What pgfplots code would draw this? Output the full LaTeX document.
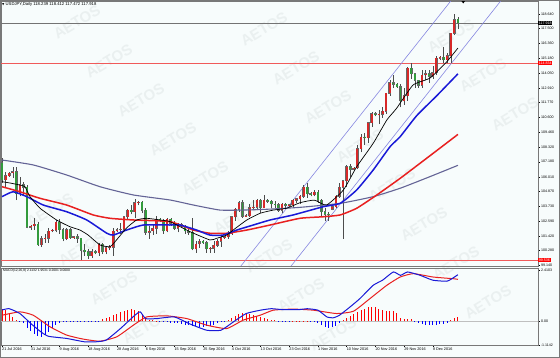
\documentclass[border=0pt]{standalone}
\usepackage{fontspec}
\setmainfont{Liberation Sans}
\newfontfamily\dejavu{DejaVu Sans}
\usepackage{pgfplots}
\pgfplotsset{compat=1.18}
\usepackage{pgfplotstable}

\definecolor{bg}{RGB}{247,252,252}
\definecolor{wm}{RGB}{234,240,240}
\definecolor{candleup}{RGB}{215,40,40}
\definecolor{candledn}{RGB}{50,155,60}
\definecolor{mablue}{RGB}{25,25,215}
\definecolor{mared}{RGB}{232,32,32}
\definecolor{maslate}{RGB}{100,100,150}
\definecolor{chan}{RGB}{135,135,225}
\definecolor{hline}{RGB}{240,90,90}
\definecolor{frame}{RGB}{120,120,120}

% bullish candles: x open high low close
\pgfplotstableread{
x o h l c
1 105.80 106.35 105.20 106.10
2 106.10 106.40 106.00 106.30
3 106.30 106.75 105.90 106.40
5 104.70 106.00 104.50 105.40
8 102.10 102.30 101.90 102.20
9 102.20 102.80 101.90 102.35
11 100.75 101.40 100.55 101.20
12 101.20 101.60 100.90 101.25
13 101.25 102.00 100.90 101.80
14 101.80 101.95 101.70 101.85
15 101.85 102.65 101.70 102.50
18 101.20 102.00 101.10 101.90
20 101.30 101.40 101.20 101.35
25 99.90 100.40 99.70 100.20
27 100.10 100.90 99.90 100.80
29 100.20 100.60 100.00 100.50
30 100.50 100.70 100.30 100.55
31 100.55 102.00 99.90 101.80
32 101.80 102.00 101.70 101.90
33 101.90 102.40 101.60 101.95
34 101.95 103.00 101.90 102.90
35 102.90 103.50 102.70 103.40
37 103.30 104.30 102.80 104.00
38 104.00 104.10 103.80 104.05
41 101.70 102.20 101.20 101.80
42 101.80 102.30 101.50 102.00
43 102.00 103.00 101.60 102.70
46 101.80 102.80 101.70 102.70
49 102.00 102.40 101.70 102.30
54 100.40 101.00 100.10 100.80
55 100.80 101.20 100.50 101.00
58 100.40 100.60 100.10 100.45
59 100.45 101.00 100.10 100.70
60 100.70 101.20 100.60 101.00
61 101.00 101.40 100.60 101.30
62 101.30 101.40 101.20 101.35
63 101.35 101.80 101.20 101.60
64 101.60 102.95 101.50 102.90
65 102.90 103.60 102.60 103.50
66 103.50 104.10 103.30 104.00
68 102.95 103.10 102.90 103.00
69 103.00 103.90 102.90 103.60
70 103.60 104.20 103.40 103.65
71 103.65 104.30 103.40 104.20
73 103.60 104.60 103.60 104.20
78 103.40 104.00 103.20 103.90
80 103.80 103.90 103.70 103.85
81 103.85 104.30 103.70 104.20
82 104.20 104.40 104.00 104.30
83 104.30 104.60 103.90 104.50
84 104.50 105.40 104.40 105.20
87 104.60 105.00 104.50 104.80
92 103.50 103.80 103.40 103.70
93 103.70 104.60 103.60 104.50
94 104.50 105.50 104.40 105.20
95 105.20 105.80 101.20 105.70
96 105.70 106.90 105.20 106.80
98 106.60 106.80 106.50 106.70
99 106.70 108.50 106.60 108.20
100 108.20 109.30 107.90 109.10
102 109.05 110.30 108.60 110.20
103 110.20 111.00 109.90 110.90
105 110.80 111.20 110.10 110.85
106 110.85 111.40 110.60 111.10
107 111.10 112.50 110.90 112.50
108 112.50 113.50 112.30 113.30
112 111.90 112.90 111.60 112.30
113 112.30 114.50 111.90 114.45
117 113.10 114.30 112.90 113.90
118 113.90 114.30 113.50 114.00
120 113.80 114.60 113.60 114.10
121 114.10 115.40 113.90 115.20
122 115.20 115.40 115.10 115.30
124 115.10 115.60 114.80 115.40
125 115.40 117.20 114.80 117.15
126 117.15 118.66 117.00 118.20
}\upc

% bearish candles
\pgfplotstableread{
x o h l c
0 107.10 107.45 105.55 105.80
4 106.40 106.80 104.20 104.70
6 105.40 105.60 104.60 105.20
7 105.20 105.40 102.00 102.10
10 102.35 102.50 100.65 100.75
16 102.50 102.70 101.60 101.90
17 101.90 102.00 101.00 101.20
19 101.90 102.00 101.20 101.30
21 101.35 101.60 100.90 101.25
22 101.25 101.30 99.55 100.30
23 100.30 100.80 99.90 100.20
24 100.20 100.40 99.65 99.90
26 100.20 100.30 100.00 100.10
28 100.80 100.90 100.00 100.20
36 103.40 103.80 103.10 103.30
39 104.05 104.10 103.20 103.40
40 103.40 103.60 101.50 101.70
44 102.70 102.80 102.50 102.60
45 102.60 102.70 101.60 101.80
47 102.70 102.80 102.20 102.40
48 102.40 102.60 101.90 102.00
50 102.30 102.40 102.10 102.20
51 102.20 102.30 101.60 101.80
52 101.80 102.00 101.50 101.70
53 101.70 102.80 100.30 100.40
56 101.00 101.10 100.80 100.90
57 100.90 101.00 100.10 100.40
67 104.00 104.20 102.80 102.95
72 104.20 104.30 103.20 103.60
74 104.20 104.25 104.00 104.10
75 104.10 104.20 103.60 103.90
76 103.90 104.10 103.60 103.85
77 103.85 104.00 103.30 103.40
79 103.90 104.00 103.50 103.80
85 105.20 105.50 104.40 104.70
86 104.70 104.80 104.50 104.60
88 104.80 105.00 104.00 104.20
89 104.20 104.30 102.90 103.30
90 103.30 103.60 102.55 103.10
91 103.10 103.30 102.60 103.05
97 106.80 107.00 106.00 106.60
101 109.10 109.40 108.50 109.05
104 110.90 111.00 110.70 110.80
109 113.30 113.90 112.90 113.20
110 113.20 113.30 112.90 113.00
111 113.00 113.20 111.40 111.90
114 114.45 114.83 113.60 114.00
115 114.00 114.10 112.90 113.50
116 113.50 113.50 112.90 113.10
119 114.00 114.30 113.30 113.80
123 115.30 116.10 114.80 115.10
127 118.239 118.412 117.472 117.918
}\dnc

\begin{document}
\begin{tikzpicture}[x=1pt,y=1pt]
\useasboundingbox (0,0) rectangle (560,358);
\fill[bg] (0,0) rectangle (560,358);
\foreach \wx/\wy in {264/329,296/290,328/251,360/212,392/173,424/134,456/95,488/56,451/322,483/283,515/244,205/180,237/141,269/102,301/63,333/24,173/219,141/258,109/297,77/336,82/109,114/70,146/31,50/148}{
  \node[rotate=31,text=wm,font=\bfseries\fontsize{15}{15}\selectfont] at (\wx,\wy) {AETOS};
}

% ---------------- main price panel ----------------
\begin{axis}[
  at={(1pt,92pt)}, anchor=south west, scale only axis,
  width=537pt, height=265pt,
  xmin=-0.28, xmax=149.3, ymin=99.09, ymax=119.649,
  axis line style={draw=frame, line width=0.6pt},
  xtick=\empty,
  ytick={118.64,117.5,116.36,115.18,114.05,112.91,111.77,110.6,109.46,108.32,107.18,106.01,104.87,103.73,102.59,101.42,100.28,99.14},
  yticklabels={118.640,117.500,116.360,115.180,114.050,112.910,111.770,110.600,109.460,108.320,107.180,106.010,104.870,103.730,102.590,101.420,100.280,99.140},
  ytick pos=right, yticklabel pos=right, tick align=outside,
  major tick length=2pt, ytick style={draw=black, line width=0.4pt},
  yticklabel style={font=\fontsize{3.6}{4}\selectfont, anchor=west, inner sep=0.8pt},
  clip mode=individual,
]
% horizontal levels
\addplot[hline, line width=0.7pt] coordinates {(-1,114.834) (150,114.834)};
\addplot[hline, line width=0.7pt] coordinates {(-1,99.536) (150,99.536)};
\addplot[black!55, line width=0.6pt] coordinates {(-1,117.918) (150,117.918)};
% channel lines
\addplot[chan, line width=0.6pt] coordinates {(64.87,98.5) (126.0,120.0)};
\addplot[chan, line width=0.6pt] coordinates {(78.86,98.5) (139.9,120.0)};
% wicks
\addplot[draw=none, mark=none, error bars/.cd, y dir=plus, y explicit, error mark=none,
  error bar style={line width=0.45pt, draw=black!70}]
  table[x=x, y=l, y error expr=\thisrow{h}-\thisrow{l}] {\upc};
\addplot[draw=none, mark=none, error bars/.cd, y dir=plus, y explicit, error mark=none,
  error bar style={line width=0.45pt, draw=black!70}]
  table[x=x, y=l, y error expr=\thisrow{h}-\thisrow{l}] {\dnc};
% body outlines
\addplot[draw=none, mark=none, error bars/.cd, y dir=plus, y explicit, error mark=none,
  error bar style={line width=2.7pt, draw=black!60}]
  table[x=x, y expr=\thisrow{o}-0.03, y error expr=\thisrow{c}-\thisrow{o}+0.06] {\upc};
\addplot[draw=none, mark=none, error bars/.cd, y dir=plus, y explicit, error mark=none,
  error bar style={line width=2.7pt, draw=black!60}]
  table[x=x, y expr=\thisrow{c}-0.03, y error expr=\thisrow{o}-\thisrow{c}+0.06] {\dnc};
% bodies
\addplot[draw=none, mark=none, error bars/.cd, y dir=plus, y explicit, error mark=none,
  error bar style={line width=1.9pt, draw=candleup}]
  table[x=x, y=o, y error expr=\thisrow{c}-\thisrow{o}] {\upc};
\addplot[draw=none, mark=none, error bars/.cd, y dir=plus, y explicit, error mark=none,
  error bar style={line width=1.9pt, draw=candledn}]
  table[x=x, y=c, y error expr=\thisrow{o}-\thisrow{c}] {\dnc};
% moving averages
\addplot[maslate, line width=1.1pt, smooth, tension=0.3] coordinates {
(0,107.31) (8.7,106.93) (18,106.15) (27.3,105.24) (36.6,104.6) (46.8,104.21) (53.3,103.82) (60.7,103.43) (67.2,103.43) (73.7,103.49) (83,103.64) (94.2,103.95) (103.4,104.47) (110.9,105.12) (119,106.0) (127,106.9)};
\addplot[mared, line width=1.5pt, smooth, tension=0.3] coordinates {
(0,105.24) (5,104.85) (10.6,104.34) (18,103.82) (25.4,103.05) (30.1,102.79) (36.6,102.66) (46.8,102.53) (53.3,101.88) (57.9,101.63) (62.6,101.63) (68.2,101.88) (74.7,102.27) (83,102.79) (89.5,102.91) (94.2,103.05) (98.8,103.57) (104.4,104.6) (110.9,105.89) (119,107.6) (127,109.3)};
\addplot[mablue, line width=1.5pt, smooth, tension=0.3] coordinates {
(0,104.47) (3.1,104.85) (6.9,104.47) (11.5,103.82) (18,103.3) (23.6,102.66) (29.2,101.63) (31,101.49) (34.7,101.88) (39.4,102.27) (46.8,102.27) (49.6,102.27) (54.2,101.88) (57.9,101.49) (61.6,101.49) (65.4,101.88) (70,102.27) (74.7,102.66) (81.1,103.05) (89.5,103.69) (94.2,103.95) (98.8,104.99) (103.4,106.54) (108.1,108.35) (110.9,109.12) (115.5,110.75) (121.1,112.3) (127,114.0)};
\addplot[black, line width=0.7pt, smooth, tension=0.3] coordinates {
(0,105.63) (2.2,105.53) (5,105.37) (6.4,105.24) (7.8,104.47) (10.6,103.57) (15.2,102.66) (18.9,102.14) (21.7,101.88) (24,101.49) (27.3,100.72) (30.1,100.59) (31.9,101.11) (34.7,102.04) (37.5,102.66) (40.3,102.79) (44,102.66) (46.8,102.53) (52.4,101.75) (57.9,101.11) (59.8,101.24) (62.6,101.49) (64.4,101.88) (68.2,102.66) (71.9,103.18) (75.6,103.43) (79.3,103.57) (83,104.0) (87,104.2) (90.4,103.82) (95.1,104.99) (98.8,106.79) (103.4,108.61) (107.2,110.42) (109.9,111.32) (114.5,113.13) (119.2,113.67) (123.9,114.94) (127,116.0)};
% price boxes on the scale
\node[fill=black, text=white, font=\fontsize{3.6}{4}\selectfont, inner sep=0.7pt, anchor=west] at (axis cs:149.3,117.918) {117.918};
\node[fill=red, text=white, font=\fontsize{3.6}{4}\selectfont, inner sep=0.7pt, anchor=west] at (axis cs:149.3,114.834) {114.834};
\node[fill=red, text=white, font=\fontsize{3.6}{4}\selectfont, inner sep=0.7pt, anchor=west] at (axis cs:149.3,99.536) {99.536};
\end{axis}

% ---------------- MACD panel ----------------
\begin{axis}[
  at={(1pt,13pt)}, anchor=south west, scale only axis,
  width=537pt, height=77pt,
  xmin=-0.28, xmax=149.3, ymin=-1.12, ymax=2.528,
  axis line style={draw=frame, line width=0.6pt},
  xtick={0,8,...,120},
  xticklabels={21 Jul 2016,31 Jul 2016,9 Aug 2016,18 Aug 2016,28 Aug 2016,6 Sep 2016,15 Sep 2016,25 Sep 2016,4 Oct 2016,13 Oct 2016,23 Oct 2016,1 Nov 2016,10 Nov 2016,20 Nov 2016,29 Nov 2016,8 Dec 2016},
  xtick pos=bottom,
  ytick={2.4103,0,-1.1142}, yticklabels={2.4103,0.00,-1.1142},
  ytick pos=right, yticklabel pos=right, tick align=outside,
  major tick length=2pt, tick style={draw=black, line width=0.4pt},
  yticklabel style={font=\fontsize{3.6}{4}\selectfont, anchor=west, inner sep=0.8pt},
  xticklabel style={font=\fontsize{3.8}{4}\selectfont, anchor=north west, inner sep=0.5pt, xshift=-0.5pt},
  clip mode=individual,
]
\addplot[black!25, line width=0.4pt] coordinates {(-1,0) (150,0)};
\addplot[ycomb, draw=red, line width=1.0pt] coordinates {
(0,0.6) (1,0.53) (2,0.37) (3,0.21) (4,0.05)
(28,0.1) (29,0.15) (30,0.2) (31,0.28) (32,0.35) (33,0.42) (34,0.5) (35,0.55) (36,0.6) (37,0.55) (38,0.5) (39,0.35) (40,0.15) (41,0.08) (42,0.05) (43,0.03)
(63,0.05) (64,0.15) (65,0.25) (66,0.35) (67,0.38) (68,0.36) (69,0.33) (70,0.3) (71,0.27) (72,0.22) (73,0.17) (74,0.12) (75,0.08) (76,0.05)
(81,0.02) (82,0.03) (83,0.03) (84,0.04) (85,0.03)
(95,0.05) (96,0.15) (97,0.25) (98,0.33) (99,0.42) (100,0.52) (101,0.6) (102,0.67) (103,0.69) (104,0.66) (105,0.58) (106,0.52) (107,0.5) (108,0.5) (109,0.48) (110,0.4) (111,0.15) (112,0.1) (113,0.12) (114,0.1)
(125,0.05) (126,0.15) (127,0.21)};
\addplot[ycomb, draw=blue, line width=1.0pt] coordinates {
(5,-0.03) (6,-0.1) (7,-0.3) (8,-0.45) (9,-0.6) (10,-0.7) (11,-0.73) (12,-0.65) (13,-0.5) (14,-0.3) (15,-0.15) (16,-0.06) (17,-0.05) (18,-0.05) (19,-0.04) (20,-0.05) (21,-0.05) (22,-0.04) (23,-0.05) (24,-0.04) (25,-0.05) (26,-0.03) (27,-0.02)
(44,-0.03) (45,-0.04) (46,-0.05) (47,-0.06) (48,-0.08) (49,-0.1) (50,-0.12) (51,-0.15) (52,-0.18) (53,-0.22) (54,-0.24) (55,-0.26) (56,-0.25) (57,-0.23) (58,-0.2) (59,-0.15) (60,-0.1) (61,-0.05) (62,-0.02)
(77,-0.03) (78,-0.03) (79,-0.04) (80,-0.03) (86,-0.03) (87,-0.05) (88,-0.08) (89,-0.18) (90,-0.27) (91,-0.31) (92,-0.28) (93,-0.2) (94,-0.1)
(115,-0.05) (116,-0.1) (117,-0.14) (118,-0.16) (119,-0.18) (120,-0.18) (121,-0.16) (122,-0.14) (123,-0.12) (124,-0.06)};
\addplot[mared, line width=1.0pt, smooth, tension=0.3] coordinates {
(0,0.29) (5,0.45) (8.7,0.29) (13.4,-0.26) (18,-0.65) (22.6,-0.84) (27.3,-0.94) (32,-0.73) (36.6,-0.18) (40.3,0.21) (45.9,0.26) (51.5,0.13) (57,-0.18) (62.6,-0.34) (67.2,0.06) (71.9,0.29) (75.6,0.53) (81.1,0.58) (86.7,0.53) (93.2,0.37) (97.9,0.48) (102.5,1.08) (107.2,1.71) (110.9,2.10) (114.6,2.26) (120.1,2.10) (125.7,2.02) (127,1.99)};
\addplot[mablue, line width=1.0pt, smooth, tension=0.3] coordinates {
(0,0.54) (2,0.60) (5,0.37) (8,-0.10) (11,-0.52) (13,-0.71) (18,-0.81) (23,-0.97) (26,-0.97) (29,-0.89) (33,-0.34) (37,0.29) (38.5,0.45) (40,0.13) (43,0.13) (48,0.21) (52,-0.10) (57,-0.42) (61,-0.42) (64.5,-0.02) (68,0.37) (72,0.53) (75,0.60) (78,0.56) (83,0.56) (85,0.60) (88,0.53) (90.5,0.21) (92.3,0.17) (94,0.29) (97,0.69) (99.7,1.08) (103.4,1.71) (106,1.95) (109,2.34) (111,2.18) (113,2.34) (116.5,2.18) (120,1.95) (123.9,1.90) (125.3,2.02) (127,2.21)};
\end{axis}

% labels and frame
\node[anchor=west, inner sep=0pt, font=\fontsize{4.2}{5}\selectfont] at (2,354) {{\dejavu\fontsize{3}{3}\selectfont ▼}\ USDJPY,Daily 118.239 118.412 117.472 117.918};
\node[anchor=west, inner sep=0pt, font=\fontsize{3.3}{4}\selectfont] at (3,87) {MACD(12,26,9) 2.1132 1.9531 0.2001 0.0000};
\fill[black] (461,357.5) -- (465.5,357.5) -- (463.25,354.5) -- cycle;
\draw[frame, line width=0.6pt] (0.3,0.3) rectangle (559.7,357.7);
\end{tikzpicture}
\end{document}
